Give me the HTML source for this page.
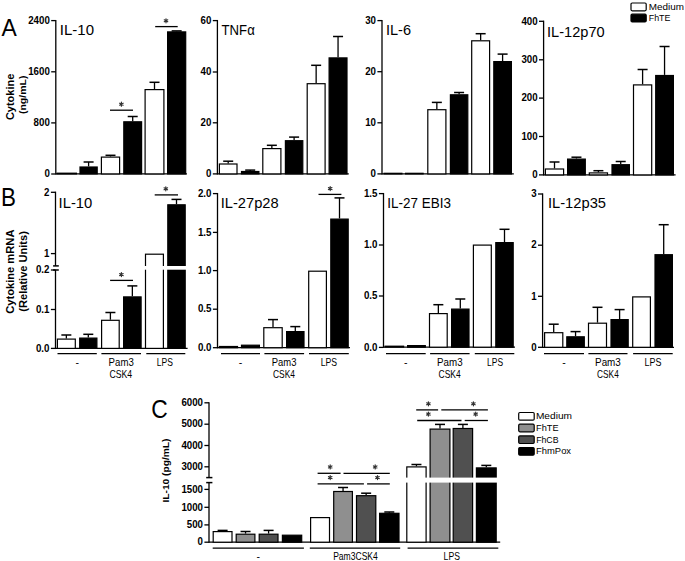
<!DOCTYPE html>
<html><head><meta charset="utf-8"><style>
html,body{margin:0;padding:0;background:#fff;}
body{width:685px;height:561px;overflow:hidden;}
svg{display:block;}
text{font-family:"Liberation Sans",sans-serif;fill:#000;}
</style></head><body>
<svg width="685" height="561" viewBox="0 0 685 561" font-family="Liberation Sans, sans-serif">
<rect width="685" height="561" fill="#fff"/>
<text transform="translate(1.6,36.0) scale(0.94,1)" font-size="24.4">A</text>
<text transform="translate(1.0,206.0) scale(0.9,1)" font-size="24.9">B</text>
<text transform="translate(151.3,418.0) scale(0.9,1)" font-size="25.4">C</text>
<text transform="translate(14.0,96.9) rotate(-90)" font-size="11" font-weight="bold" text-anchor="middle" textLength="46.4" lengthAdjust="spacingAndGlyphs">Cytokine</text>
<text transform="translate(25.9,94.8) rotate(-90)" font-size="9.4" font-weight="bold" text-anchor="middle" textLength="38.6" lengthAdjust="spacingAndGlyphs">(ng/mL)</text>
<text transform="translate(14.3,271.7) rotate(-90)" font-size="10.8" font-weight="bold" text-anchor="middle" textLength="84.3" lengthAdjust="spacingAndGlyphs">Cytokine mRNA</text>
<text transform="translate(27.4,271.4) rotate(-90)" font-size="10.5" font-weight="bold" text-anchor="middle" textLength="80.6" lengthAdjust="spacingAndGlyphs">(Relative Units)</text>
<text transform="translate(168.8,470.5) rotate(-90)" font-size="9.3" font-weight="bold" text-anchor="middle" textLength="64" lengthAdjust="spacingAndGlyphs">IL-10 (pg/mL)</text>
<line x1="55.80" y1="19.95" x2="55.80" y2="174.55" stroke="#000" stroke-width="1.3"/>
<line x1="51.20" y1="174.00" x2="55.80" y2="174.00" stroke="#000" stroke-width="1.3"/>
<text x="49.80" y="177.20" font-size="10" text-anchor="end" font-weight="bold" textLength="5.40" lengthAdjust="spacingAndGlyphs">0</text>
<line x1="51.20" y1="122.90" x2="55.80" y2="122.90" stroke="#000" stroke-width="1.3"/>
<text x="49.80" y="126.10" font-size="10" text-anchor="end" font-weight="bold" textLength="16.20" lengthAdjust="spacingAndGlyphs">800</text>
<line x1="51.20" y1="71.80" x2="55.80" y2="71.80" stroke="#000" stroke-width="1.3"/>
<text x="49.80" y="75.00" font-size="10" text-anchor="end" font-weight="bold" textLength="21.60" lengthAdjust="spacingAndGlyphs">1600</text>
<line x1="51.20" y1="20.60" x2="55.80" y2="20.60" stroke="#000" stroke-width="1.3"/>
<text x="49.80" y="23.80" font-size="10" text-anchor="end" font-weight="bold" textLength="21.60" lengthAdjust="spacingAndGlyphs">2400</text>
<line x1="55.80" y1="173.90" x2="186.90" y2="173.90" stroke="#000" stroke-width="1.3"/>
<text x="59.88" y="34.80" font-size="14.3" text-anchor="start" font-weight="normal" textLength="34.17" lengthAdjust="spacingAndGlyphs">IL-10</text>
<rect x="57.10" y="173.20" width="19.30" height="0.70" fill="#fff" stroke="#000" stroke-width="1.2"/>
<line x1="88.60" y1="166.40" x2="88.60" y2="162.00" stroke="#000" stroke-width="1.3"/>
<line x1="83.60" y1="162.00" x2="93.60" y2="162.00" stroke="#000" stroke-width="1.5"/>
<rect x="80.00" y="167.00" width="17.20" height="6.90" fill="#000" stroke="#000" stroke-width="1.2"/>
<line x1="110.50" y1="156.50" x2="110.50" y2="155.30" stroke="#000" stroke-width="1.3"/>
<line x1="105.50" y1="155.30" x2="115.50" y2="155.30" stroke="#000" stroke-width="1.5"/>
<rect x="101.40" y="157.10" width="18.20" height="16.80" fill="#fff" stroke="#000" stroke-width="1.2"/>
<line x1="132.70" y1="121.20" x2="132.70" y2="116.50" stroke="#000" stroke-width="1.3"/>
<line x1="127.70" y1="116.50" x2="137.70" y2="116.50" stroke="#000" stroke-width="1.5"/>
<rect x="123.80" y="121.80" width="17.80" height="52.10" fill="#000" stroke="#000" stroke-width="1.2"/>
<line x1="154.50" y1="89.00" x2="154.50" y2="82.30" stroke="#000" stroke-width="1.3"/>
<line x1="149.50" y1="82.30" x2="159.50" y2="82.30" stroke="#000" stroke-width="1.5"/>
<rect x="145.10" y="89.60" width="18.80" height="84.30" fill="#fff" stroke="#000" stroke-width="1.2"/>
<line x1="176.65" y1="31.30" x2="176.65" y2="30.90" stroke="#000" stroke-width="1.3"/>
<line x1="171.65" y1="30.90" x2="181.65" y2="30.90" stroke="#000" stroke-width="1.5"/>
<rect x="167.60" y="31.90" width="18.10" height="142.00" fill="#000" stroke="#000" stroke-width="1.2"/>
<line x1="110.00" y1="110.20" x2="133.00" y2="110.20" stroke="#000" stroke-width="1.3"/>
<path d="M121.40 106.20L121.40 102.20M119.67 105.20L123.13 103.20M119.67 103.20L123.13 105.20" stroke="#333" stroke-width="1.2" stroke-linecap="round" fill="none"/>
<line x1="155.20" y1="26.60" x2="177.70" y2="26.60" stroke="#000" stroke-width="1.3"/>
<path d="M166.00 22.80L166.00 18.80M164.27 21.80L167.73 19.80M164.27 19.80L167.73 21.80" stroke="#333" stroke-width="1.2" stroke-linecap="round" fill="none"/>
<line x1="217.40" y1="19.95" x2="217.40" y2="174.55" stroke="#000" stroke-width="1.3"/>
<line x1="212.80" y1="173.90" x2="217.40" y2="173.90" stroke="#000" stroke-width="1.3"/>
<text x="211.40" y="177.10" font-size="10" text-anchor="end" font-weight="bold" textLength="5.40" lengthAdjust="spacingAndGlyphs">0</text>
<line x1="212.80" y1="122.80" x2="217.40" y2="122.80" stroke="#000" stroke-width="1.3"/>
<text x="211.40" y="126.00" font-size="10" text-anchor="end" font-weight="bold" textLength="10.80" lengthAdjust="spacingAndGlyphs">20</text>
<line x1="212.80" y1="72.00" x2="217.40" y2="72.00" stroke="#000" stroke-width="1.3"/>
<text x="211.40" y="75.20" font-size="10" text-anchor="end" font-weight="bold" textLength="10.80" lengthAdjust="spacingAndGlyphs">40</text>
<line x1="212.80" y1="20.60" x2="217.40" y2="20.60" stroke="#000" stroke-width="1.3"/>
<text x="211.40" y="23.80" font-size="10" text-anchor="end" font-weight="bold" textLength="10.80" lengthAdjust="spacingAndGlyphs">60</text>
<line x1="217.40" y1="173.90" x2="348.80" y2="173.90" stroke="#000" stroke-width="1.3"/>
<text x="221.58" y="35.00" font-size="14.3" text-anchor="start" font-weight="normal" textLength="33.19" lengthAdjust="spacingAndGlyphs">TNFα</text>
<line x1="228.20" y1="163.40" x2="228.20" y2="161.20" stroke="#000" stroke-width="1.3"/>
<line x1="223.20" y1="161.20" x2="233.20" y2="161.20" stroke="#000" stroke-width="1.5"/>
<rect x="219.40" y="164.00" width="17.60" height="9.90" fill="#fff" stroke="#000" stroke-width="1.2"/>
<line x1="250.20" y1="170.90" x2="250.20" y2="170.10" stroke="#000" stroke-width="1.3"/>
<line x1="245.20" y1="170.10" x2="255.20" y2="170.10" stroke="#000" stroke-width="1.5"/>
<rect x="241.50" y="171.50" width="17.40" height="2.40" fill="#000" stroke="#000" stroke-width="1.2"/>
<line x1="271.85" y1="148.00" x2="271.85" y2="145.30" stroke="#000" stroke-width="1.3"/>
<line x1="266.85" y1="145.30" x2="276.85" y2="145.30" stroke="#000" stroke-width="1.5"/>
<rect x="262.80" y="148.60" width="18.10" height="25.30" fill="#fff" stroke="#000" stroke-width="1.2"/>
<line x1="294.10" y1="140.10" x2="294.10" y2="137.10" stroke="#000" stroke-width="1.3"/>
<line x1="289.10" y1="137.10" x2="299.10" y2="137.10" stroke="#000" stroke-width="1.5"/>
<rect x="285.40" y="140.70" width="17.40" height="33.20" fill="#000" stroke="#000" stroke-width="1.2"/>
<line x1="316.15" y1="83.10" x2="316.15" y2="65.30" stroke="#000" stroke-width="1.3"/>
<line x1="311.15" y1="65.30" x2="321.15" y2="65.30" stroke="#000" stroke-width="1.5"/>
<rect x="307.20" y="83.70" width="17.90" height="90.20" fill="#fff" stroke="#000" stroke-width="1.2"/>
<line x1="338.05" y1="57.30" x2="338.05" y2="36.50" stroke="#000" stroke-width="1.3"/>
<line x1="333.05" y1="36.50" x2="343.05" y2="36.50" stroke="#000" stroke-width="1.5"/>
<rect x="329.10" y="57.90" width="17.90" height="116.00" fill="#000" stroke="#000" stroke-width="1.2"/>
<line x1="382.00" y1="19.95" x2="382.00" y2="174.55" stroke="#000" stroke-width="1.3"/>
<line x1="377.40" y1="173.90" x2="382.00" y2="173.90" stroke="#000" stroke-width="1.3"/>
<text x="376.00" y="177.10" font-size="10" text-anchor="end" font-weight="bold" textLength="5.40" lengthAdjust="spacingAndGlyphs">0</text>
<line x1="377.40" y1="122.80" x2="382.00" y2="122.80" stroke="#000" stroke-width="1.3"/>
<text x="376.00" y="126.00" font-size="10" text-anchor="end" font-weight="bold" textLength="10.80" lengthAdjust="spacingAndGlyphs">10</text>
<line x1="377.40" y1="71.70" x2="382.00" y2="71.70" stroke="#000" stroke-width="1.3"/>
<text x="376.00" y="74.90" font-size="10" text-anchor="end" font-weight="bold" textLength="10.80" lengthAdjust="spacingAndGlyphs">20</text>
<line x1="377.40" y1="20.60" x2="382.00" y2="20.60" stroke="#000" stroke-width="1.3"/>
<text x="376.00" y="23.80" font-size="10" text-anchor="end" font-weight="bold" textLength="10.80" lengthAdjust="spacingAndGlyphs">30</text>
<line x1="382.00" y1="173.90" x2="513.80" y2="173.90" stroke="#000" stroke-width="1.3"/>
<text x="385.97" y="34.80" font-size="14.3" text-anchor="start" font-weight="normal" textLength="25.06" lengthAdjust="spacingAndGlyphs">IL-6</text>
<rect x="384.10" y="173.30" width="17.80" height="0.60" fill="#fff" stroke="#000" stroke-width="1.2"/>
<rect x="405.60" y="173.30" width="17.50" height="0.60" fill="#000" stroke="#000" stroke-width="1.2"/>
<line x1="436.85" y1="109.10" x2="436.85" y2="102.40" stroke="#000" stroke-width="1.3"/>
<line x1="431.85" y1="102.40" x2="441.85" y2="102.40" stroke="#000" stroke-width="1.5"/>
<rect x="427.80" y="109.70" width="18.10" height="64.20" fill="#fff" stroke="#000" stroke-width="1.2"/>
<line x1="459.10" y1="94.20" x2="459.10" y2="92.50" stroke="#000" stroke-width="1.3"/>
<line x1="454.10" y1="92.50" x2="464.10" y2="92.50" stroke="#000" stroke-width="1.5"/>
<rect x="450.40" y="94.80" width="17.40" height="79.10" fill="#000" stroke="#000" stroke-width="1.2"/>
<line x1="480.65" y1="40.20" x2="480.65" y2="33.70" stroke="#000" stroke-width="1.3"/>
<line x1="475.65" y1="33.70" x2="485.65" y2="33.70" stroke="#000" stroke-width="1.5"/>
<rect x="471.70" y="40.80" width="17.90" height="133.10" fill="#fff" stroke="#000" stroke-width="1.2"/>
<line x1="502.60" y1="61.00" x2="502.60" y2="54.10" stroke="#000" stroke-width="1.3"/>
<line x1="497.60" y1="54.10" x2="507.60" y2="54.10" stroke="#000" stroke-width="1.5"/>
<rect x="493.80" y="61.60" width="17.60" height="112.30" fill="#000" stroke="#000" stroke-width="1.2"/>
<line x1="543.60" y1="20.65" x2="543.60" y2="175.55" stroke="#000" stroke-width="1.3"/>
<line x1="539.00" y1="174.90" x2="543.60" y2="174.90" stroke="#000" stroke-width="1.3"/>
<text x="537.60" y="178.10" font-size="10" text-anchor="end" font-weight="bold" textLength="5.40" lengthAdjust="spacingAndGlyphs">0</text>
<line x1="539.00" y1="136.50" x2="543.60" y2="136.50" stroke="#000" stroke-width="1.3"/>
<text x="537.60" y="139.70" font-size="10" text-anchor="end" font-weight="bold" textLength="16.20" lengthAdjust="spacingAndGlyphs">100</text>
<line x1="539.00" y1="98.10" x2="543.60" y2="98.10" stroke="#000" stroke-width="1.3"/>
<text x="537.60" y="101.30" font-size="10" text-anchor="end" font-weight="bold" textLength="16.20" lengthAdjust="spacingAndGlyphs">200</text>
<line x1="539.00" y1="59.80" x2="543.60" y2="59.80" stroke="#000" stroke-width="1.3"/>
<text x="537.60" y="63.00" font-size="10" text-anchor="end" font-weight="bold" textLength="16.20" lengthAdjust="spacingAndGlyphs">300</text>
<line x1="539.00" y1="21.30" x2="543.60" y2="21.30" stroke="#000" stroke-width="1.3"/>
<text x="537.60" y="24.50" font-size="10" text-anchor="end" font-weight="bold" textLength="16.20" lengthAdjust="spacingAndGlyphs">400</text>
<line x1="543.60" y1="174.90" x2="675.60" y2="174.90" stroke="#000" stroke-width="1.3"/>
<text x="547.01" y="36.90" font-size="14.3" text-anchor="start" font-weight="normal" textLength="57.63" lengthAdjust="spacingAndGlyphs">IL-12p70</text>
<line x1="554.50" y1="168.40" x2="554.50" y2="162.00" stroke="#000" stroke-width="1.3"/>
<line x1="549.50" y1="162.00" x2="559.50" y2="162.00" stroke="#000" stroke-width="1.5"/>
<rect x="545.40" y="169.00" width="18.20" height="5.90" fill="#fff" stroke="#000" stroke-width="1.2"/>
<line x1="576.45" y1="158.50" x2="576.45" y2="157.20" stroke="#000" stroke-width="1.3"/>
<line x1="571.45" y1="157.20" x2="581.45" y2="157.20" stroke="#000" stroke-width="1.5"/>
<rect x="567.60" y="159.10" width="17.70" height="15.80" fill="#000" stroke="#000" stroke-width="1.2"/>
<line x1="598.40" y1="172.30" x2="598.40" y2="170.70" stroke="#000" stroke-width="1.3"/>
<line x1="593.40" y1="170.70" x2="603.40" y2="170.70" stroke="#000" stroke-width="1.5"/>
<rect x="589.30" y="172.90" width="18.20" height="2.00" fill="#fff" stroke="#000" stroke-width="1.2"/>
<line x1="620.70" y1="164.10" x2="620.70" y2="161.50" stroke="#000" stroke-width="1.3"/>
<line x1="615.70" y1="161.50" x2="625.70" y2="161.50" stroke="#000" stroke-width="1.5"/>
<rect x="612.00" y="164.70" width="17.40" height="10.20" fill="#000" stroke="#000" stroke-width="1.2"/>
<line x1="642.60" y1="84.30" x2="642.60" y2="69.50" stroke="#000" stroke-width="1.3"/>
<line x1="637.60" y1="69.50" x2="647.60" y2="69.50" stroke="#000" stroke-width="1.5"/>
<rect x="633.50" y="84.90" width="18.20" height="90.00" fill="#fff" stroke="#000" stroke-width="1.2"/>
<line x1="664.55" y1="74.90" x2="664.55" y2="46.50" stroke="#000" stroke-width="1.3"/>
<line x1="659.55" y1="46.50" x2="669.55" y2="46.50" stroke="#000" stroke-width="1.5"/>
<rect x="655.70" y="75.50" width="17.70" height="99.40" fill="#000" stroke="#000" stroke-width="1.2"/>
<line x1="55.50" y1="191.65" x2="55.50" y2="265.90" stroke="#000" stroke-width="1.3"/>
<line x1="55.50" y1="270.00" x2="55.50" y2="349.05" stroke="#000" stroke-width="1.3"/>
<line x1="53.10" y1="265.90" x2="58.80" y2="265.90" stroke="#000" stroke-width="1.5"/>
<line x1="53.10" y1="270.00" x2="58.80" y2="270.00" stroke="#000" stroke-width="1.5"/>
<line x1="50.90" y1="348.40" x2="55.50" y2="348.40" stroke="#000" stroke-width="1.3"/>
<text x="49.50" y="351.60" font-size="10" text-anchor="end" font-weight="bold" textLength="13.55" lengthAdjust="spacingAndGlyphs">0.0</text>
<line x1="50.90" y1="309.50" x2="55.50" y2="309.50" stroke="#000" stroke-width="1.3"/>
<text x="49.50" y="312.70" font-size="10" text-anchor="end" font-weight="bold" textLength="13.55" lengthAdjust="spacingAndGlyphs">0.1</text>
<line x1="50.90" y1="270.00" x2="55.50" y2="270.00" stroke="#000" stroke-width="1.3"/>
<text x="49.50" y="273.20" font-size="10" text-anchor="end" font-weight="bold" textLength="13.55" lengthAdjust="spacingAndGlyphs">0.2</text>
<line x1="50.90" y1="253.60" x2="55.50" y2="253.60" stroke="#000" stroke-width="1.3"/>
<text x="49.50" y="256.80" font-size="10" text-anchor="end" font-weight="bold" textLength="5.40" lengthAdjust="spacingAndGlyphs">1</text>
<line x1="50.90" y1="192.30" x2="55.50" y2="192.30" stroke="#000" stroke-width="1.3"/>
<text x="49.50" y="195.50" font-size="10" text-anchor="end" font-weight="bold" textLength="5.40" lengthAdjust="spacingAndGlyphs">2</text>
<line x1="55.50" y1="348.40" x2="187.60" y2="348.40" stroke="#000" stroke-width="1.3"/>
<text x="58.57" y="208.30" font-size="14.3" text-anchor="start" font-weight="normal" textLength="33.78" lengthAdjust="spacingAndGlyphs">IL-10</text>
<line x1="66.35" y1="338.50" x2="66.35" y2="335.00" stroke="#000" stroke-width="1.3"/>
<line x1="61.35" y1="335.00" x2="71.35" y2="335.00" stroke="#000" stroke-width="1.5"/>
<rect x="57.40" y="339.10" width="17.90" height="9.30" fill="#fff" stroke="#000" stroke-width="1.2"/>
<line x1="88.30" y1="337.50" x2="88.30" y2="334.30" stroke="#000" stroke-width="1.3"/>
<line x1="83.30" y1="334.30" x2="93.30" y2="334.30" stroke="#000" stroke-width="1.5"/>
<rect x="79.70" y="338.10" width="17.20" height="10.30" fill="#000" stroke="#000" stroke-width="1.2"/>
<line x1="110.40" y1="319.70" x2="110.40" y2="312.50" stroke="#000" stroke-width="1.3"/>
<line x1="105.40" y1="312.50" x2="115.40" y2="312.50" stroke="#000" stroke-width="1.5"/>
<rect x="101.60" y="320.30" width="17.60" height="28.10" fill="#fff" stroke="#000" stroke-width="1.2"/>
<line x1="132.35" y1="296.30" x2="132.35" y2="285.90" stroke="#000" stroke-width="1.3"/>
<line x1="127.35" y1="285.90" x2="137.35" y2="285.90" stroke="#000" stroke-width="1.5"/>
<rect x="123.60" y="296.90" width="17.50" height="51.50" fill="#000" stroke="#000" stroke-width="1.2"/>
<rect x="145.50" y="254.20" width="17.90" height="94.20" fill="#fff" stroke="#000" stroke-width="1.2"/>
<rect x="143.90" y="266.00" width="21.10" height="3.70" fill="#fff"/>
<line x1="176.50" y1="204.20" x2="176.50" y2="199.40" stroke="#000" stroke-width="1.3"/>
<line x1="171.50" y1="199.40" x2="181.50" y2="199.40" stroke="#000" stroke-width="1.5"/>
<rect x="167.80" y="204.80" width="17.40" height="143.60" fill="#000" stroke="#000" stroke-width="1.2"/>
<rect x="166.20" y="266.00" width="20.60" height="3.70" fill="#fff"/>
<line x1="110.10" y1="280.40" x2="133.00" y2="280.40" stroke="#000" stroke-width="1.3"/>
<path d="M121.40 276.60L121.40 272.60M119.67 275.60L123.13 273.60M119.67 273.60L123.13 275.60" stroke="#333" stroke-width="1.2" stroke-linecap="round" fill="none"/>
<line x1="154.70" y1="194.90" x2="178.00" y2="194.90" stroke="#000" stroke-width="1.3"/>
<path d="M165.80 190.80L165.80 186.80M164.07 189.80L167.53 187.80M164.07 187.80L167.53 189.80" stroke="#333" stroke-width="1.2" stroke-linecap="round" fill="none"/>
<line x1="57.50" y1="353.60" x2="96.80" y2="353.60" stroke="#000" stroke-width="1.3"/>
<line x1="101.40" y1="353.60" x2="141.00" y2="353.60" stroke="#000" stroke-width="1.3"/>
<line x1="146.30" y1="353.60" x2="185.30" y2="353.60" stroke="#000" stroke-width="1.3"/>
<text x="77.15" y="366.00" font-size="10.5" text-anchor="middle" font-weight="normal">-</text>
<text x="121.20" y="366.20" font-size="10.8" text-anchor="middle" font-weight="normal" textLength="25.17" lengthAdjust="spacingAndGlyphs">Pam3</text>
<text x="120.75" y="377.90" font-size="10.8" text-anchor="middle" font-weight="normal" textLength="22.73" lengthAdjust="spacingAndGlyphs">CSK4</text>
<text x="164.79" y="366.20" font-size="10.8" text-anchor="middle" font-weight="normal" textLength="16.11" lengthAdjust="spacingAndGlyphs">LPS</text>
<line x1="217.50" y1="192.95" x2="217.50" y2="348.35" stroke="#000" stroke-width="1.3"/>
<line x1="212.90" y1="347.70" x2="217.50" y2="347.70" stroke="#000" stroke-width="1.3"/>
<text x="211.50" y="350.90" font-size="10" text-anchor="end" font-weight="bold" textLength="13.55" lengthAdjust="spacingAndGlyphs">0.0</text>
<line x1="212.90" y1="309.20" x2="217.50" y2="309.20" stroke="#000" stroke-width="1.3"/>
<text x="211.50" y="312.40" font-size="10" text-anchor="end" font-weight="bold" textLength="13.55" lengthAdjust="spacingAndGlyphs">0.5</text>
<line x1="212.90" y1="270.60" x2="217.50" y2="270.60" stroke="#000" stroke-width="1.3"/>
<text x="211.50" y="273.80" font-size="10" text-anchor="end" font-weight="bold" textLength="13.55" lengthAdjust="spacingAndGlyphs">1.0</text>
<line x1="212.90" y1="232.40" x2="217.50" y2="232.40" stroke="#000" stroke-width="1.3"/>
<text x="211.50" y="235.60" font-size="10" text-anchor="end" font-weight="bold" textLength="13.55" lengthAdjust="spacingAndGlyphs">1.5</text>
<line x1="212.90" y1="193.60" x2="217.50" y2="193.60" stroke="#000" stroke-width="1.3"/>
<text x="211.50" y="196.80" font-size="10" text-anchor="end" font-weight="bold" textLength="13.55" lengthAdjust="spacingAndGlyphs">2.0</text>
<line x1="217.50" y1="347.70" x2="350.00" y2="347.70" stroke="#000" stroke-width="1.3"/>
<text x="220.74" y="208.30" font-size="14.3" text-anchor="start" font-weight="normal" textLength="57.95" lengthAdjust="spacingAndGlyphs">IL-27p28</text>
<rect x="219.40" y="346.50" width="18.10" height="1.20" fill="#fff" stroke="#000" stroke-width="1.2"/>
<rect x="241.50" y="345.20" width="17.90" height="2.50" fill="#000" stroke="#000" stroke-width="1.2"/>
<line x1="273.00" y1="327.10" x2="273.00" y2="319.60" stroke="#000" stroke-width="1.3"/>
<line x1="268.00" y1="319.60" x2="278.00" y2="319.60" stroke="#000" stroke-width="1.5"/>
<rect x="263.80" y="327.70" width="18.40" height="20.00" fill="#fff" stroke="#000" stroke-width="1.2"/>
<line x1="295.30" y1="331.00" x2="295.30" y2="326.60" stroke="#000" stroke-width="1.3"/>
<line x1="290.30" y1="326.60" x2="300.30" y2="326.60" stroke="#000" stroke-width="1.5"/>
<rect x="286.60" y="331.60" width="17.40" height="16.10" fill="#000" stroke="#000" stroke-width="1.2"/>
<rect x="308.70" y="271.20" width="17.70" height="76.50" fill="#fff" stroke="#000" stroke-width="1.2"/>
<line x1="339.50" y1="218.50" x2="339.50" y2="197.90" stroke="#000" stroke-width="1.3"/>
<line x1="334.50" y1="197.90" x2="344.50" y2="197.90" stroke="#000" stroke-width="1.5"/>
<rect x="330.80" y="219.10" width="17.40" height="128.60" fill="#000" stroke="#000" stroke-width="1.2"/>
<line x1="318.50" y1="194.40" x2="341.40" y2="194.40" stroke="#000" stroke-width="1.3"/>
<path d="M330.20 190.60L330.20 186.60M328.47 189.60L331.93 187.60M328.47 187.60L331.93 189.60" stroke="#333" stroke-width="1.2" stroke-linecap="round" fill="none"/>
<line x1="221.00" y1="353.60" x2="260.00" y2="353.60" stroke="#000" stroke-width="1.3"/>
<line x1="264.40" y1="353.60" x2="304.10" y2="353.60" stroke="#000" stroke-width="1.3"/>
<line x1="309.00" y1="353.60" x2="348.80" y2="353.60" stroke="#000" stroke-width="1.3"/>
<text x="240.50" y="366.00" font-size="10.5" text-anchor="middle" font-weight="normal">-</text>
<text x="284.13" y="366.20" font-size="10.8" text-anchor="middle" font-weight="normal" textLength="24.68" lengthAdjust="spacingAndGlyphs">Pam3</text>
<text x="283.95" y="377.90" font-size="10.8" text-anchor="middle" font-weight="normal" textLength="22.00" lengthAdjust="spacingAndGlyphs">CSK4</text>
<text x="328.88" y="366.20" font-size="10.8" text-anchor="middle" font-weight="normal" textLength="16.41" lengthAdjust="spacingAndGlyphs">LPS</text>
<line x1="383.50" y1="192.95" x2="383.50" y2="347.85" stroke="#000" stroke-width="1.3"/>
<line x1="378.90" y1="347.40" x2="383.50" y2="347.40" stroke="#000" stroke-width="1.3"/>
<text x="377.50" y="350.60" font-size="10" text-anchor="end" font-weight="bold" textLength="13.55" lengthAdjust="spacingAndGlyphs">0.0</text>
<line x1="378.90" y1="296.00" x2="383.50" y2="296.00" stroke="#000" stroke-width="1.3"/>
<text x="377.50" y="299.20" font-size="10" text-anchor="end" font-weight="bold" textLength="13.55" lengthAdjust="spacingAndGlyphs">0.5</text>
<line x1="378.90" y1="245.00" x2="383.50" y2="245.00" stroke="#000" stroke-width="1.3"/>
<text x="377.50" y="248.20" font-size="10" text-anchor="end" font-weight="bold" textLength="13.55" lengthAdjust="spacingAndGlyphs">1.0</text>
<line x1="378.90" y1="193.60" x2="383.50" y2="193.60" stroke="#000" stroke-width="1.3"/>
<text x="377.50" y="196.80" font-size="10" text-anchor="end" font-weight="bold" textLength="13.55" lengthAdjust="spacingAndGlyphs">1.5</text>
<line x1="383.50" y1="347.20" x2="515.00" y2="347.20" stroke="#000" stroke-width="1.3"/>
<text x="387.35" y="207.90" font-size="14.3" text-anchor="start" font-weight="normal" textLength="63.53" lengthAdjust="spacingAndGlyphs">IL-27 EBI3</text>
<rect x="385.10" y="346.20" width="18.50" height="1.00" fill="#fff" stroke="#000" stroke-width="1.2"/>
<rect x="407.60" y="345.60" width="17.70" height="1.60" fill="#000" stroke="#000" stroke-width="1.2"/>
<line x1="438.35" y1="313.00" x2="438.35" y2="304.70" stroke="#000" stroke-width="1.3"/>
<line x1="433.35" y1="304.70" x2="443.35" y2="304.70" stroke="#000" stroke-width="1.5"/>
<rect x="429.50" y="313.60" width="17.70" height="33.60" fill="#fff" stroke="#000" stroke-width="1.2"/>
<line x1="460.30" y1="308.50" x2="460.30" y2="299.00" stroke="#000" stroke-width="1.3"/>
<line x1="455.30" y1="299.00" x2="465.30" y2="299.00" stroke="#000" stroke-width="1.5"/>
<rect x="451.60" y="309.10" width="17.40" height="38.10" fill="#000" stroke="#000" stroke-width="1.2"/>
<rect x="473.40" y="245.10" width="17.90" height="102.10" fill="#fff" stroke="#000" stroke-width="1.2"/>
<line x1="504.50" y1="242.00" x2="504.50" y2="229.30" stroke="#000" stroke-width="1.3"/>
<line x1="499.50" y1="229.30" x2="509.50" y2="229.30" stroke="#000" stroke-width="1.5"/>
<rect x="495.80" y="242.60" width="17.40" height="104.60" fill="#000" stroke="#000" stroke-width="1.2"/>
<line x1="386.00" y1="353.60" x2="425.70" y2="353.60" stroke="#000" stroke-width="1.3"/>
<line x1="430.10" y1="353.60" x2="469.60" y2="353.60" stroke="#000" stroke-width="1.3"/>
<line x1="474.80" y1="353.60" x2="514.30" y2="353.60" stroke="#000" stroke-width="1.3"/>
<text x="405.85" y="366.00" font-size="10.5" text-anchor="middle" font-weight="normal">-</text>
<text x="449.85" y="366.20" font-size="10.8" text-anchor="middle" font-weight="normal" textLength="25.55" lengthAdjust="spacingAndGlyphs">Pam3</text>
<text x="449.63" y="377.90" font-size="10.8" text-anchor="middle" font-weight="normal" textLength="22.15" lengthAdjust="spacingAndGlyphs">CSK4</text>
<text x="495.07" y="366.20" font-size="10.8" text-anchor="middle" font-weight="normal" textLength="16.02" lengthAdjust="spacingAndGlyphs">LPS</text>
<line x1="542.60" y1="193.35" x2="542.60" y2="347.95" stroke="#000" stroke-width="1.3"/>
<line x1="538.00" y1="347.30" x2="542.60" y2="347.30" stroke="#000" stroke-width="1.3"/>
<text x="536.60" y="350.50" font-size="10" text-anchor="end" font-weight="bold" textLength="5.40" lengthAdjust="spacingAndGlyphs">0</text>
<line x1="538.00" y1="296.30" x2="542.60" y2="296.30" stroke="#000" stroke-width="1.3"/>
<text x="536.60" y="299.50" font-size="10" text-anchor="end" font-weight="bold" textLength="5.40" lengthAdjust="spacingAndGlyphs">1</text>
<line x1="538.00" y1="245.20" x2="542.60" y2="245.20" stroke="#000" stroke-width="1.3"/>
<text x="536.60" y="248.40" font-size="10" text-anchor="end" font-weight="bold" textLength="5.40" lengthAdjust="spacingAndGlyphs">2</text>
<line x1="538.00" y1="194.00" x2="542.60" y2="194.00" stroke="#000" stroke-width="1.3"/>
<text x="536.60" y="197.20" font-size="10" text-anchor="end" font-weight="bold" textLength="5.40" lengthAdjust="spacingAndGlyphs">3</text>
<line x1="542.60" y1="347.30" x2="674.00" y2="347.30" stroke="#000" stroke-width="1.3"/>
<text x="547.95" y="208.00" font-size="14.3" text-anchor="start" font-weight="normal" textLength="58.06" lengthAdjust="spacingAndGlyphs">IL-12p35</text>
<line x1="553.70" y1="332.10" x2="553.70" y2="324.20" stroke="#000" stroke-width="1.3"/>
<line x1="548.70" y1="324.20" x2="558.70" y2="324.20" stroke="#000" stroke-width="1.5"/>
<rect x="544.60" y="332.70" width="18.20" height="14.60" fill="#fff" stroke="#000" stroke-width="1.2"/>
<line x1="575.55" y1="336.20" x2="575.55" y2="331.60" stroke="#000" stroke-width="1.3"/>
<line x1="570.55" y1="331.60" x2="580.55" y2="331.60" stroke="#000" stroke-width="1.5"/>
<rect x="566.80" y="336.80" width="17.50" height="10.50" fill="#000" stroke="#000" stroke-width="1.2"/>
<line x1="597.50" y1="322.60" x2="597.50" y2="307.30" stroke="#000" stroke-width="1.3"/>
<line x1="592.50" y1="307.30" x2="602.50" y2="307.30" stroke="#000" stroke-width="1.5"/>
<rect x="588.50" y="323.20" width="18.00" height="24.10" fill="#fff" stroke="#000" stroke-width="1.2"/>
<line x1="619.60" y1="319.00" x2="619.60" y2="309.60" stroke="#000" stroke-width="1.3"/>
<line x1="614.60" y1="309.60" x2="624.60" y2="309.60" stroke="#000" stroke-width="1.5"/>
<rect x="611.00" y="319.60" width="17.20" height="27.70" fill="#000" stroke="#000" stroke-width="1.2"/>
<rect x="632.70" y="296.90" width="17.70" height="50.40" fill="#fff" stroke="#000" stroke-width="1.2"/>
<line x1="663.70" y1="254.10" x2="663.70" y2="224.70" stroke="#000" stroke-width="1.3"/>
<line x1="658.70" y1="224.70" x2="668.70" y2="224.70" stroke="#000" stroke-width="1.5"/>
<rect x="655.00" y="254.70" width="17.40" height="92.60" fill="#000" stroke="#000" stroke-width="1.2"/>
<line x1="544.00" y1="353.60" x2="584.00" y2="353.60" stroke="#000" stroke-width="1.3"/>
<line x1="588.40" y1="353.60" x2="627.50" y2="353.60" stroke="#000" stroke-width="1.3"/>
<line x1="633.10" y1="353.60" x2="672.70" y2="353.60" stroke="#000" stroke-width="1.3"/>
<text x="564.00" y="366.00" font-size="10.5" text-anchor="middle" font-weight="normal">-</text>
<text x="607.95" y="366.20" font-size="10.8" text-anchor="middle" font-weight="normal" textLength="25.78" lengthAdjust="spacingAndGlyphs">Pam3</text>
<text x="607.93" y="377.90" font-size="10.8" text-anchor="middle" font-weight="normal" textLength="21.65" lengthAdjust="spacingAndGlyphs">CSK4</text>
<text x="652.98" y="366.20" font-size="10.8" text-anchor="middle" font-weight="normal" textLength="16.94" lengthAdjust="spacingAndGlyphs">LPS</text>
<rect x="631.0" y="3.0" width="15.2" height="7.8" rx="1.2" fill="#fff" stroke="#000" stroke-width="1.2"/>
<rect x="631.0" y="14.2" width="15.2" height="7.8" rx="1.2" fill="#000" stroke="#000" stroke-width="1.2"/>
<text x="648.84" y="9.60" font-size="9.3" text-anchor="start" font-weight="normal" textLength="35.18" lengthAdjust="spacingAndGlyphs">Medium</text>
<text x="648.73" y="20.80" font-size="9.3" text-anchor="start" font-weight="normal" textLength="21.76" lengthAdjust="spacingAndGlyphs">FhTE</text>
<line x1="209.00" y1="402.15" x2="209.00" y2="477.60" stroke="#000" stroke-width="1.3"/>
<line x1="209.00" y1="482.90" x2="209.00" y2="542.85" stroke="#000" stroke-width="1.3"/>
<line x1="206.20" y1="477.60" x2="212.40" y2="477.60" stroke="#000" stroke-width="1.5"/>
<line x1="206.20" y1="482.60" x2="212.40" y2="482.60" stroke="#000" stroke-width="1.5"/>
<line x1="204.40" y1="402.80" x2="209.00" y2="402.80" stroke="#000" stroke-width="1.3"/>
<text x="203.00" y="406.00" font-size="10" text-anchor="end" font-weight="bold" textLength="21.60" lengthAdjust="spacingAndGlyphs">6000</text>
<line x1="204.40" y1="424.20" x2="209.00" y2="424.20" stroke="#000" stroke-width="1.3"/>
<text x="203.00" y="427.40" font-size="10" text-anchor="end" font-weight="bold" textLength="21.60" lengthAdjust="spacingAndGlyphs">5000</text>
<line x1="204.40" y1="445.50" x2="209.00" y2="445.50" stroke="#000" stroke-width="1.3"/>
<text x="203.00" y="448.70" font-size="10" text-anchor="end" font-weight="bold" textLength="21.60" lengthAdjust="spacingAndGlyphs">4000</text>
<line x1="204.40" y1="466.80" x2="209.00" y2="466.80" stroke="#000" stroke-width="1.3"/>
<text x="203.00" y="470.00" font-size="10" text-anchor="end" font-weight="bold" textLength="21.60" lengthAdjust="spacingAndGlyphs">3000</text>
<line x1="204.40" y1="489.40" x2="209.00" y2="489.40" stroke="#000" stroke-width="1.3"/>
<text x="203.00" y="492.60" font-size="10" text-anchor="end" font-weight="bold" textLength="21.60" lengthAdjust="spacingAndGlyphs">1500</text>
<line x1="204.40" y1="507.30" x2="209.00" y2="507.30" stroke="#000" stroke-width="1.3"/>
<text x="203.00" y="510.50" font-size="10" text-anchor="end" font-weight="bold" textLength="21.60" lengthAdjust="spacingAndGlyphs">1000</text>
<line x1="204.40" y1="524.90" x2="209.00" y2="524.90" stroke="#000" stroke-width="1.3"/>
<text x="203.00" y="528.10" font-size="10" text-anchor="end" font-weight="bold" textLength="16.20" lengthAdjust="spacingAndGlyphs">500</text>
<line x1="204.40" y1="542.20" x2="209.00" y2="542.20" stroke="#000" stroke-width="1.3"/>
<text x="203.00" y="545.40" font-size="10" text-anchor="end" font-weight="bold" textLength="5.40" lengthAdjust="spacingAndGlyphs">0</text>
<line x1="209.00" y1="542.20" x2="500.20" y2="542.20" stroke="#000" stroke-width="1.3"/>
<line x1="222.60" y1="531.00" x2="222.60" y2="530.40" stroke="#000" stroke-width="1.3"/>
<line x1="217.60" y1="530.40" x2="227.60" y2="530.40" stroke="#000" stroke-width="1.5"/>
<rect x="213.20" y="531.60" width="18.80" height="10.60" fill="#fff" stroke="#000" stroke-width="1.2"/>
<line x1="245.55" y1="533.60" x2="245.55" y2="531.50" stroke="#000" stroke-width="1.3"/>
<line x1="240.55" y1="531.50" x2="250.55" y2="531.50" stroke="#000" stroke-width="1.5"/>
<rect x="236.20" y="534.20" width="18.70" height="8.00" fill="#8f8f8f" stroke="#000" stroke-width="1.2"/>
<line x1="268.60" y1="533.60" x2="268.60" y2="530.40" stroke="#000" stroke-width="1.3"/>
<line x1="263.60" y1="530.40" x2="273.60" y2="530.40" stroke="#000" stroke-width="1.5"/>
<rect x="259.20" y="534.20" width="18.80" height="8.00" fill="#505050" stroke="#000" stroke-width="1.2"/>
<rect x="282.40" y="535.20" width="19.30" height="7.00" fill="#000" stroke="#000" stroke-width="1.2"/>
<rect x="310.60" y="517.60" width="18.90" height="24.60" fill="#fff" stroke="#000" stroke-width="1.2"/>
<line x1="343.05" y1="490.90" x2="343.05" y2="487.50" stroke="#000" stroke-width="1.3"/>
<line x1="338.05" y1="487.50" x2="348.05" y2="487.50" stroke="#000" stroke-width="1.5"/>
<rect x="333.70" y="491.50" width="18.70" height="50.70" fill="#8f8f8f" stroke="#000" stroke-width="1.2"/>
<line x1="366.15" y1="495.10" x2="366.15" y2="493.20" stroke="#000" stroke-width="1.3"/>
<line x1="361.15" y1="493.20" x2="371.15" y2="493.20" stroke="#000" stroke-width="1.5"/>
<rect x="356.50" y="495.70" width="19.30" height="46.50" fill="#505050" stroke="#000" stroke-width="1.2"/>
<line x1="389.30" y1="512.70" x2="389.30" y2="512.00" stroke="#000" stroke-width="1.3"/>
<line x1="384.30" y1="512.00" x2="394.30" y2="512.00" stroke="#000" stroke-width="1.5"/>
<rect x="379.60" y="513.30" width="19.40" height="28.90" fill="#000" stroke="#000" stroke-width="1.2"/>
<line x1="416.45" y1="466.30" x2="416.45" y2="464.50" stroke="#000" stroke-width="1.3"/>
<line x1="411.45" y1="464.50" x2="421.45" y2="464.50" stroke="#000" stroke-width="1.5"/>
<rect x="406.80" y="466.90" width="19.30" height="75.30" fill="#fff" stroke="#000" stroke-width="1.2"/>
<rect x="405.20" y="477.60" width="22.50" height="5.00" fill="#fff"/>
<line x1="440.00" y1="428.50" x2="440.00" y2="424.40" stroke="#000" stroke-width="1.3"/>
<line x1="435.00" y1="424.40" x2="445.00" y2="424.40" stroke="#000" stroke-width="1.5"/>
<rect x="430.10" y="429.10" width="19.80" height="113.10" fill="#8f8f8f" stroke="#000" stroke-width="1.2"/>
<rect x="428.50" y="477.60" width="23.00" height="5.00" fill="#fff"/>
<line x1="462.90" y1="427.90" x2="462.90" y2="424.40" stroke="#000" stroke-width="1.3"/>
<line x1="457.90" y1="424.40" x2="467.90" y2="424.40" stroke="#000" stroke-width="1.5"/>
<rect x="453.20" y="428.50" width="19.40" height="113.70" fill="#505050" stroke="#000" stroke-width="1.2"/>
<rect x="451.60" y="477.60" width="22.60" height="5.00" fill="#fff"/>
<line x1="486.30" y1="467.30" x2="486.30" y2="465.40" stroke="#000" stroke-width="1.3"/>
<line x1="481.30" y1="465.40" x2="491.30" y2="465.40" stroke="#000" stroke-width="1.5"/>
<rect x="476.40" y="467.90" width="19.80" height="74.30" fill="#000" stroke="#000" stroke-width="1.2"/>
<rect x="474.80" y="477.60" width="23.00" height="5.00" fill="#fff"/>
<line x1="317.60" y1="473.30" x2="340.60" y2="473.30" stroke="#000" stroke-width="1.3"/>
<path d="M330.20 468.90L330.20 464.90M328.47 467.90L331.93 465.90M328.47 465.90L331.93 467.90" stroke="#333" stroke-width="1.2" stroke-linecap="round" fill="none"/>
<line x1="343.50" y1="473.30" x2="389.80" y2="473.30" stroke="#000" stroke-width="1.3"/>
<path d="M375.20 468.90L375.20 464.90M373.47 467.90L376.93 465.90M373.47 465.90L376.93 467.90" stroke="#333" stroke-width="1.2" stroke-linecap="round" fill="none"/>
<line x1="317.60" y1="483.90" x2="363.90" y2="483.90" stroke="#000" stroke-width="1.3"/>
<path d="M330.20 479.60L330.20 475.60M328.47 478.60L331.93 476.60M328.47 476.60L331.93 478.60" stroke="#333" stroke-width="1.2" stroke-linecap="round" fill="none"/>
<line x1="367.10" y1="483.90" x2="389.80" y2="483.90" stroke="#000" stroke-width="1.3"/>
<path d="M377.50 479.60L377.50 475.60M375.77 478.60L379.23 476.60M375.77 476.60L379.23 478.60" stroke="#333" stroke-width="1.2" stroke-linecap="round" fill="none"/>
<line x1="416.20" y1="409.90" x2="438.10" y2="409.90" stroke="#000" stroke-width="1.3"/>
<path d="M428.40 405.80L428.40 401.80M426.67 404.80L430.13 402.80M426.67 402.80L430.13 404.80" stroke="#333" stroke-width="1.2" stroke-linecap="round" fill="none"/>
<line x1="441.30" y1="409.90" x2="487.90" y2="409.90" stroke="#000" stroke-width="1.3"/>
<path d="M473.40 405.80L473.40 401.80M471.67 404.80L475.13 402.80M471.67 402.80L475.13 404.80" stroke="#333" stroke-width="1.2" stroke-linecap="round" fill="none"/>
<line x1="417.20" y1="420.50" x2="461.50" y2="420.50" stroke="#000" stroke-width="1.3"/>
<path d="M428.40 416.10L428.40 412.10M426.67 415.10L430.13 413.10M426.67 413.10L430.13 415.10" stroke="#333" stroke-width="1.2" stroke-linecap="round" fill="none"/>
<line x1="464.70" y1="420.50" x2="487.90" y2="420.50" stroke="#000" stroke-width="1.3"/>
<path d="M475.70 416.10L475.70 412.10M473.97 415.10L477.43 413.10M473.97 413.10L477.43 415.10" stroke="#333" stroke-width="1.2" stroke-linecap="round" fill="none"/>
<line x1="212.70" y1="548.20" x2="303.90" y2="548.20" stroke="#000" stroke-width="1.3"/>
<line x1="309.80" y1="548.20" x2="400.20" y2="548.20" stroke="#000" stroke-width="1.3"/>
<line x1="407.60" y1="548.20" x2="498.30" y2="548.20" stroke="#000" stroke-width="1.3"/>
<text x="258.20" y="560.00" font-size="10.5" text-anchor="middle" font-weight="normal">-</text>
<text x="355.47" y="560.00" font-size="10.8" text-anchor="middle" font-weight="normal" textLength="44.68" lengthAdjust="spacingAndGlyphs">Pam3CSK4</text>
<text x="451.76" y="560.00" font-size="10.8" text-anchor="middle" font-weight="normal" textLength="16.35" lengthAdjust="spacingAndGlyphs">LPS</text>
<rect x="518.7" y="412.50" width="15.5" height="7.6" rx="1.2" fill="#fff" stroke="#000" stroke-width="1.2"/>
<text x="535.90" y="418.90" font-size="9.3" text-anchor="start" font-weight="normal" textLength="36.13" lengthAdjust="spacingAndGlyphs">Medium</text>
<rect x="518.7" y="424.20" width="15.5" height="7.6" rx="1.2" fill="#8f8f8f" stroke="#000" stroke-width="1.2"/>
<text x="536.08" y="430.80" font-size="9.3" text-anchor="start" font-weight="normal" textLength="22.47" lengthAdjust="spacingAndGlyphs">FhTE</text>
<rect x="518.7" y="435.90" width="15.5" height="7.6" rx="1.2" fill="#505050" stroke="#000" stroke-width="1.2"/>
<text x="536.14" y="442.60" font-size="9.3" text-anchor="start" font-weight="normal" textLength="22.44" lengthAdjust="spacingAndGlyphs">FhCB</text>
<rect x="518.7" y="447.60" width="15.5" height="7.6" rx="1.2" fill="#000" stroke="#000" stroke-width="1.2"/>
<text x="536.07" y="453.70" font-size="9.3" text-anchor="start" font-weight="normal" textLength="35.02" lengthAdjust="spacingAndGlyphs">FhmPox</text>
</svg>
</body></html>
